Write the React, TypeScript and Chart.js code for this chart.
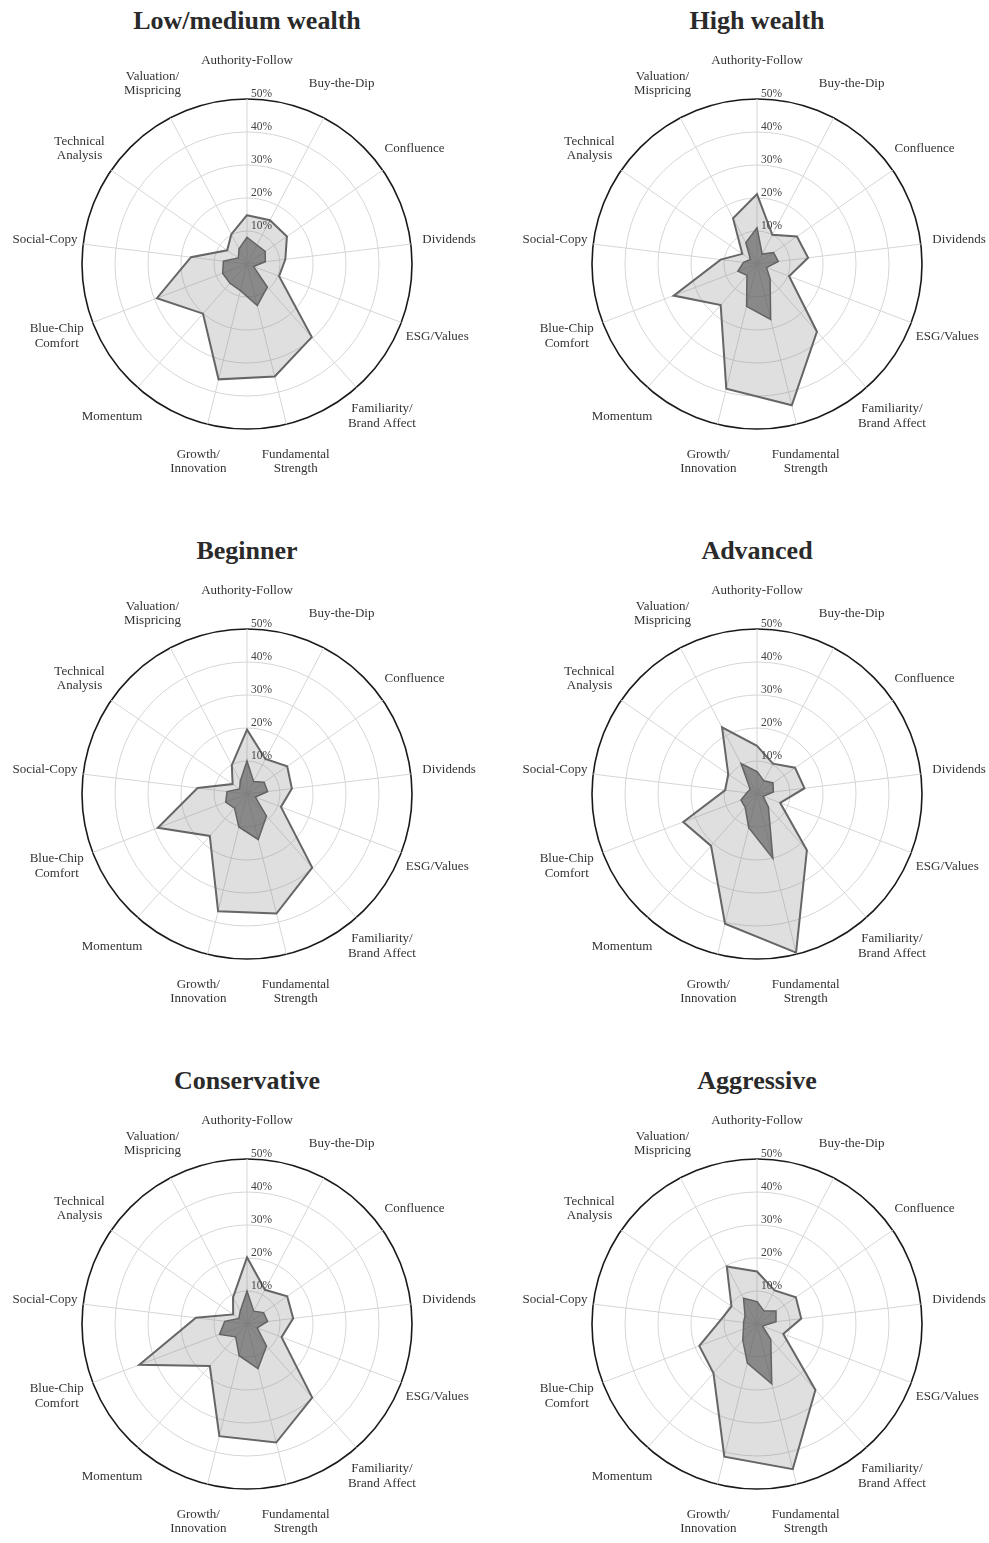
import React, { useEffect, useRef } from "react";
import { Chart, registerables } from "chart.js";

Chart.register(...registerables);

const CATEGORIES = [
  "Authority-Follow",
  "Buy-the-Dip",
  "Confluence",
  "Dividends",
  "ESG/Values",
  "Familiarity/\nBrand Affect",
  "Fundamental\nStrength",
  "Growth/\nInnovation",
  "Momentum",
  "Blue-Chip\nComfort",
  "Social-Copy",
  "Technical\nAnalysis",
  "Valuation/\nMispricing",
];

const TICK_VALUES = [10, 20, 30, 40, 50];
const TICK_LABELS = ["10%", "20%", "30%", "40%", "50%"];

const TITLES = ["Low/medium wealth", "High wealth", "Beginner", "Advanced", "Conservative", "Aggressive"];

// Light (outer) series per panel, in %
const LOWMED_LIGHT = [14.8, 15.0, 14.7, 11.7, 10.4, 29.6, 35.1, 36.0, 20.1, 29.2, 17.1, 7.3, 10.2];
const LOWMED_DARK = [8.1, 6.5, 6.7, 5.6, 2.1, 9.3, 13.0, 8.3, 7.8, 7.9, 7.2, 3.2, 5.2];

const HIGH_LIGHT = [21.2, 10.0, 14.7, 15.6, 10.4, 27.4, 44.1, 38.9, 16.6, 27.0, 11.1, 5.4, 15.6];
const HIGH_DARK = [11.0, 3.4, 6.1, 6.5, 3.1, 6.0, 17.3, 13.2, 4.6, 6.2, 4.1, 2.4, 7.3];

const BEGINNER_LIGHT = [19.5, 12.0, 14.8, 13.7, 11.0, 29.8, 37.3, 36.6, 17.0, 28.9, 15.1, 5.3, 9.9];
const BEGINNER_DARK = [10.0, 4.3, 6.3, 6.3, 2.7, 8.9, 14.2, 10.3, 5.7, 6.9, 6.1, 2.7, 4.4];

const ADVANCED_LIGHT = [14.6, 10.4, 14.0, 14.5, 7.5, 22.8, 49.5, 40.5, 21.0, 23.9, 9.7, 10.6, 22.8];
const ADVANCED_DARK = [6.8, 4.5, 5.9, 5.0, 2.0, 5.2, 20.1, 10.5, 5.4, 5.2, 3.1, 2.5, 10.4];

const CONSERVATIVE_LIGHT = [20.2, 11.7, 14.8, 14.1, 11.2, 29.8, 37.0, 35.0, 17.0, 34.9, 15.6, 5.1, 9.1];
const CONSERVATIVE_DARK = [10.0, 4.4, 6.1, 6.3, 3.3, 8.9, 13.9, 9.9, 5.2, 8.9, 6.8, 3.0, 4.4];

const AGGRESSIVE_LIGHT = [15.9, 11.5, 14.3, 13.5, 8.5, 26.7, 45.3, 41.4, 19.9, 18.7, 11.0, 9.4, 19.7];
const AGGRESSIVE_DARK = [6.8, 4.5, 7.0, 5.8, 1.8, 6.3, 18.7, 12.2, 6.5, 4.4, 4.1, 4.4, 8.8];

const PANELS = [
  { title: TITLES[0], light: LOWMED_LIGHT, dark: LOWMED_DARK },
  { title: TITLES[1], light: HIGH_LIGHT, dark: HIGH_DARK },
  { title: TITLES[2], light: BEGINNER_LIGHT, dark: BEGINNER_DARK },
  { title: TITLES[3], light: ADVANCED_LIGHT, dark: ADVANCED_DARK },
  { title: TITLES[4], light: CONSERVATIVE_LIGHT, dark: CONSERVATIVE_DARK },
  { title: TITLES[5], light: AGGRESSIVE_LIGHT, dark: AGGRESSIVE_DARK },
];

const FONT = '"Liberation Serif", "Times New Roman", serif';
const CANVAS_W = 494;
const CANVAS_H = 500;
const CENTER_X = 247;
const CENTER_Y = 264;
const RADIUS = 165;
const COL_X = [247, 757];
const ROW_Y = [264, 794, 1324];

const labelPlugin = {
  id: "customRadarLabels",
  afterDraw(chart: any) {
    const scale = chart.scales.r;
    const ctx = chart.ctx;
    ctx.save();
    ctx.textAlign = "center";
    ctx.textBaseline = "middle";
    ctx.fillStyle = "#333333";
    ctx.font = `13px ${FONT}`;
    CATEGORIES.forEach((lab, i) => {
      const lines = lab.split("\n");
      const p = scale.getPointPosition(i, scale.drawingArea + 38.5);
      const lh = 14.5;
      lines.forEach((ln, j) => {
        ctx.fillText(ln, p.x, p.y + (j - (lines.length - 1) / 2) * lh);
      });
    });
    ctx.font = `11.5px ${FONT}`;
    ctx.fillStyle = "#444444";
    ctx.textAlign = "left";
    TICK_VALUES.forEach((v, i) => {
      const d = scale.getDistanceFromCenterForValue(v);
      ctx.fillText(TICK_LABELS[i], scale.xCenter + 4, scale.yCenter - d - 5.5);
    });
    ctx.restore();
  },
};

function RadarPanel({ panel, cx, cy }: { panel: any; cx: number; cy: number }) {
  const ref = useRef<HTMLCanvasElement | null>(null);
  useEffect(() => {
    if (!ref.current) return;
    const chart = new Chart(ref.current, {
      type: "radar",
      data: {
        labels: CATEGORIES,
        datasets: [
          {
            data: panel.light,
            backgroundColor: "rgba(128,128,128,0.25)",
            borderColor: "#666666",
            borderWidth: 2,
            pointRadius: 0,
            fill: true,
            tension: 0,
          },
          {
            data: panel.dark,
            backgroundColor: "rgba(85,85,85,0.68)",
            borderColor: "#5a5a5a",
            borderWidth: 1.5,
            pointRadius: 0,
            fill: true,
            tension: 0,
          },
        ],
      },
      options: {
        animation: false,
        responsive: false,
        maintainAspectRatio: false,
        layout: {
          padding: {
            left: CENTER_X - RADIUS,
            right: CANVAS_W - CENTER_X - RADIUS,
            top: CENTER_Y - RADIUS,
            bottom: CANVAS_H - CENTER_Y - RADIUS,
          },
        },
        plugins: {
          legend: { display: false },
          tooltip: { enabled: false },
          title: { display: false },
        },
        elements: { line: { borderJoinStyle: "miter" } },
        scales: {
          r: {
            min: 0,
            max: 50,
            startAngle: 0,
            beginAtZero: true,
            ticks: { display: false, stepSize: 10 },
            pointLabels: { display: false },
            grid: {
              circular: true,
              color: (c: any) => (c.tick && c.tick.value === 50 ? "#1a1a1a" : "#d6d6d6"),
              lineWidth: (c: any) => (c.tick && c.tick.value === 50 ? 1.6 : 1),
            },
            angleLines: { display: true, color: "#d6d6d6", lineWidth: 1 },
          },
        },
      },
      plugins: [labelPlugin],
    });
    return () => chart.destroy();
  }, [panel]);
  return (
    <>
      <div
        style={{
          position: "absolute",
          left: cx - 240,
          top: cy - 264 + 6,
          width: 480,
          textAlign: "center",
          font: `bold 26px ${FONT}`,
          lineHeight: "30px",
          color: "#2a2a2a",
        }}
      >
        {panel.title}
      </div>
      <canvas
        ref={ref}
        width={CANVAS_W}
        height={CANVAS_H}
        style={{
          position: "absolute",
          left: cx - CENTER_X,
          top: cy - CENTER_Y,
          width: CANVAS_W,
          height: CANVAS_H,
        }}
      />
    </>
  );
}

export default function App() {
  return (
    <div
      style={{
        position: "absolute",
        left: 0,
        top: 0,
        width: 989,
        height: 1543,
        overflow: "hidden",
        background: "#ffffff",
      }}
    >
      {PANELS.map((p, i) => (
        <RadarPanel key={i} panel={p} cx={COL_X[i % 2]} cy={ROW_Y[Math.floor(i / 2)]} />
      ))}
    </div>
  );
}
